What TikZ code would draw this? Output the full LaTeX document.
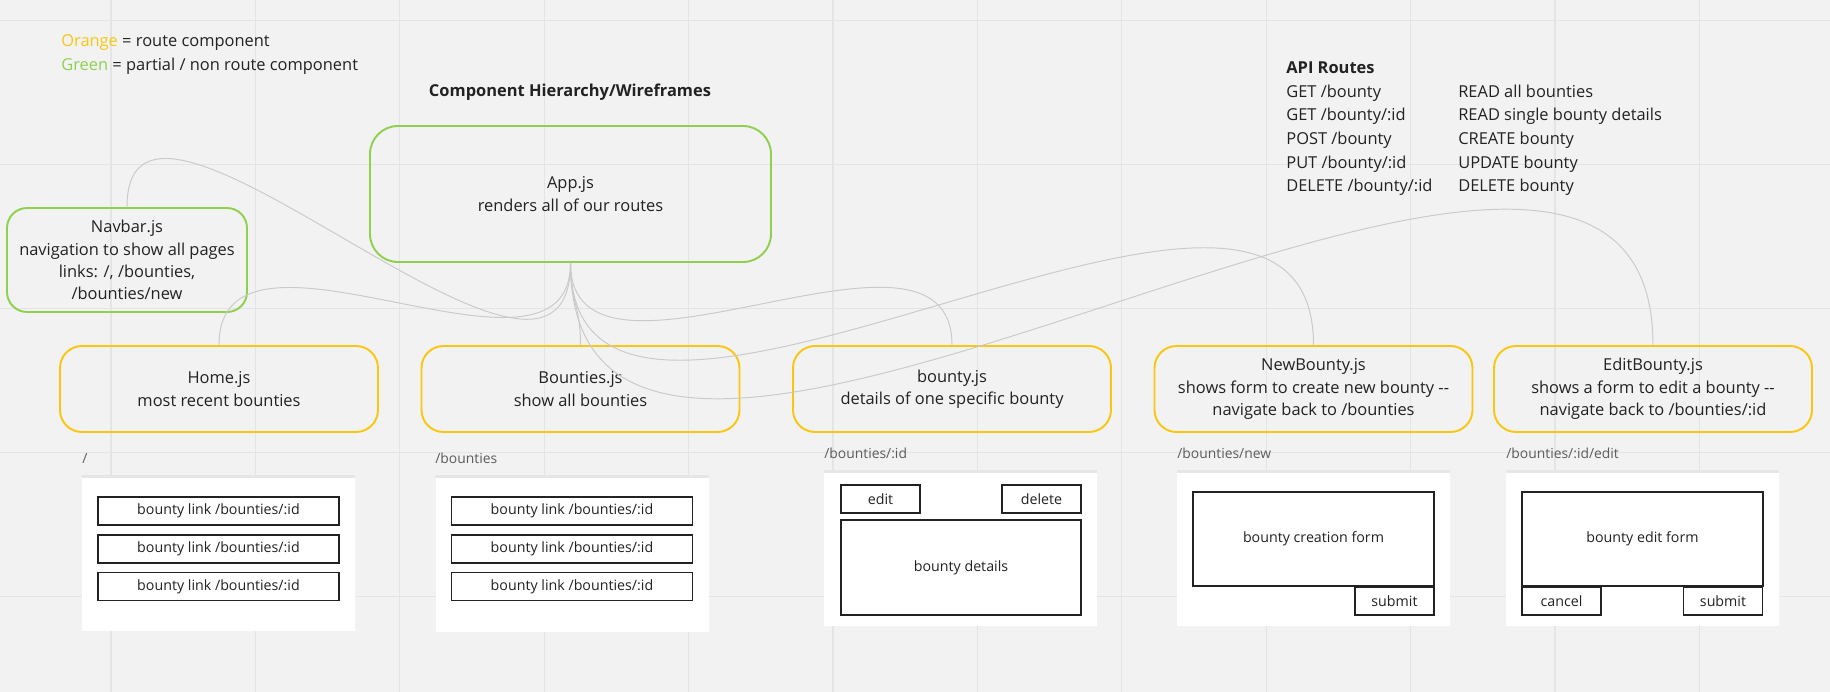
\documentclass[tikz,border=0pt]{standalone}
\usepackage{fontspec}
\setmainfont{Open Sans}
\usepackage{tikz}
\definecolor{BoardBG}{HTML}{F2F2F2}
\definecolor{GridLine}{HTML}{E4E4E4}
\definecolor{RouteOrange}{HTML}{FAC710}
\definecolor{PartialGreen}{HTML}{8FD14F}
\definecolor{InkDark}{HTML}{222222}
\definecolor{LinkGray}{HTML}{CACACA}
\definecolor{PathGray}{HTML}{5C5C5C}
\definecolor{PanelEdge}{HTML}{E6E6E6}

\begin{document}
\begin{tikzpicture}[x=0.02cm,y=-0.02cm,
    comp/.style={draw=RouteOrange,line width=1.1pt,rounded corners=0.44cm,align=center,text=InkDark,
                 font=\fontsize{9.35}{12.7}\selectfont,minimum width=318*0.02cm,minimum height=86*0.02cm,inner sep=0pt},
    partial/.style={comp,draw=PartialGreen},
    panel/.style={fill=white,minimum width=273*0.02cm,minimum height=156*0.02cm,inner sep=0pt},
    wire/.style={draw=InkDark,line width=0.9pt,fill=white,text=InkDark,font=\fontsize{8.1}{10}\selectfont,
                 minimum width=79*0.02cm,minimum height=28*0.02cm,inner sep=0pt},
    route/.style={anchor=base west,text=PathGray,font=\fontsize{7.9}{9}\selectfont,inner sep=0pt},
    plain/.style={anchor=base west,text=InkDark,font=\fontsize{9.35}{13.5}\selectfont,inner sep=0pt},
    link/.style={draw=LinkGray,line width=0.55pt}
  ]
  \useasboundingbox (0,0) rectangle (1830,692);
  \fill[BoardBG] (0,0) rectangle (1830,692);
  \foreach \k in {0,...,11}
    \draw[GridLine,line width=0.7pt] ({111+144.4*\k},0) -- ({111+144.4*\k},692);
  \foreach \k in {0,...,4}
    \draw[GridLine,line width=0.7pt] (0,{20.5+144*\k}) -- (1830,{20.5+144*\k});

  % legend, title, api routes
  \node[plain] (legendO) at (61,46.5) {\textcolor{RouteOrange}{Orange} = route component};
  \node[plain] (legendG) at (61,70.5) {\textcolor{PartialGreen}{Green} = partial / non route component};
  \node[plain,anchor=base,font=\fontsize{9.35}{13.5}\selectfont\bfseries] (title) at (570,96.5) {Component Hierarchy/Wireframes};
  \node[plain] (api) at (1286,73.3) {\begin{tabular}[t]{@{}p{3.44cm}@{}l@{}}
      \textbf{API Routes} & \\
      GET /bounty & READ all bounties\\
      GET /bounty/:id & READ single bounty details\\
      POST /bounty & CREATE bounty\\
      PUT /bounty/:id & UPDATE bounty\\
      DELETE /bounty/:id & DELETE bounty
    \end{tabular}};

  % components
  \node[partial,minimum width=401*0.02cm,minimum height=136*0.02cm,rounded corners=0.56cm] (app) at (570.5,194) {App.js\\renders all of our routes};
  \node[partial,minimum width=240*0.02cm,minimum height=104*0.02cm,rounded corners=0.4cm] (navbar) at (127,260) {Navbar.js\\navigation to show all pages\\links: /, /bounties,\\/bounties/new};
  \node[comp] (home)       at (219,389)    {Home.js\\most recent bounties};
  \node[comp] (bounties)   at (580.5,389)  {Bounties.js\\show all bounties};
  \node[comp] (bounty)     at (952,389)    {bounty.js\\details of one specific bounty};
  \node[comp] (newbounty)  at (1313.5,389) {NewBounty.js\\shows form to create new bounty {-}{-}\\navigate back to /bounties};
  \node[comp] (editbounty) at (1653,389)   {EditBounty.js\\shows a form to edit a bounty {-}{-}\\navigate back to /bounties/:id};

  \draw[link] (app.south) .. controls +(0,210) and +(0,-193) .. (navbar.north);
  \draw[link] (app.south) .. controls +(0,149) and +(0,-154) .. (home.north);
  \draw[link] (app.south) .. controls +(0,40) and +(0,-40) .. (bounties.north);
  \draw[link] (app.south) .. controls +(0,158) and +(0,-158) .. (bounty.north);
  \draw[link] (app.south) .. controls +(0,300) and +(0,-300) .. (newbounty.north);
  \draw[link] (app.south) .. controls +(0,435) and +(0,-435) .. (editbounty.north);

  % wireframes
  \node[panel] (homeP) at (218.5,553)  {};
  \node[panel] (listP) at (572,553.5)  {};
  \node[panel] (showP) at (960.5,548)  {};
  \node[panel] (newP)  at (1313.5,548) {};
  \node[panel] (editP) at (1642.5,548) {};
  \foreach \p in {homeP,listP,showP,newP,editP}
    \fill[PanelEdge] (\p.north west) rectangle ([yshift=-0.06cm]\p.north east);

  \node[route] (homeR) at (82,464)   {/};
  \node[route] (listR) at (435,464)  {/bounties};
  \node[route] (showR) at (824,459)  {/bounties/:id};
  \node[route] (newR)  at (1177,459) {/bounties/new};
  \node[route] (editR) at (1506,459) {/bounties/:id/edit};

  \foreach \r/\y in {1/511,2/549,3/586.5} {
    \node[wire,minimum width=241*0.02cm] (homeL\r) at (218.5,\y) {bounty link /bounties/:id};
    \node[wire,minimum width=241*0.02cm] (listL\r) at (572,\y)   {bounty link /bounties/:id};
  }

  \node[wire] (editBtn)   at (880.5,499)  {edit};
  \node[wire] (deleteBtn) at (1041.5,499) {delete};
  \node[wire,minimum width=240*0.02cm,minimum height=95*0.02cm] (details) at (961,567.5) {bounty details};

  \node[wire,minimum width=241*0.02cm,minimum height=94*0.02cm] (newForm) at (1313.5,539) {bounty creation form};
  \node[wire] (newSubmit) at (1394.5,601) {submit};

  \node[wire,minimum width=241*0.02cm,minimum height=94*0.02cm] (editForm) at (1642.5,539) {bounty edit form};
  \node[wire] (editCancel) at (1561.5,601) {cancel};
  \node[wire] (editSubmit) at (1723,601)   {submit};
\end{tikzpicture}
\end{document}
